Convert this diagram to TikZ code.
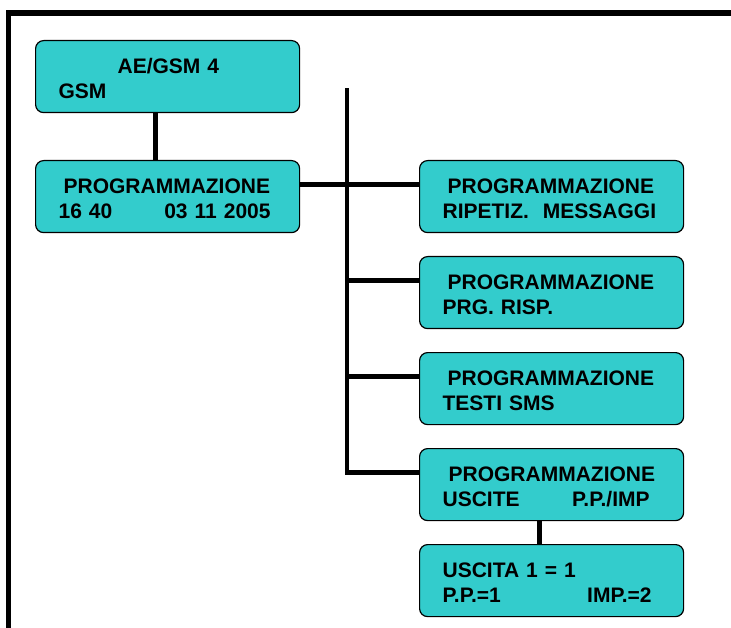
\documentclass[tikz,border=0pt]{standalone}
\usepackage{fontspec}
\setmainfont{Liberation Sans}
\definecolor{menucyan}{RGB}{51, 204, 204}

\tikzset{
    menubox/.style={draw=black, line width=1.2pt, fill=menucyan, rounded corners=8pt,
        anchor=north west, inner xsep=23pt, inner ysep=0pt,
        text width=218pt, text height=33pt, text depth=39pt, align=left,
        font=\fontsize{21pt}{25pt}\selectfont\bfseries},
    link/.style={line width=4.5pt}
}

\begin{document}
\begin{tikzpicture}[x=1pt, y=-1pt]
            \useasboundingbox (0,0) rectangle (731,628);
            \clip (0,0) rectangle (731,628);

            % Frame
            \draw[line width=5.5pt] (8.5,700) |- (760,13);

            % Left column
            \node[menubox] (gsm) at (35,40) {\hspace*{59pt}AE/GSM 4\\GSM};
            \node[menubox] (prog) at (35,160) {\hspace*{5pt}PROGRAMMAZIONE\\16 40\hfill 03 11 2005\hspace*{6pt}\mbox{}};

            % Right column
            \node[menubox] (rip) at (419,160) {\hspace*{5pt}PROGRAMMAZIONE\\RIPETIZ.\ \ MESSAGGI};
            \node[menubox] (risp) at (419,256) {\hspace*{5pt}PROGRAMMAZIONE\\PRG. RISP.};
            \node[menubox] (sms) at (419,352) {\hspace*{5pt}PROGRAMMAZIONE\\TESTI SMS};
            \node[menubox] (usc) at (419,448) {\hspace*{6pt}PROGRAMMAZIONE\\USCITE\hfill P.P./IMP\hspace*{11pt}\mbox{}};
            \node[menubox] (usc1) at (419,544) {USCITA 1 = 1\\P.P.=1\hfill IMP.=2\hspace*{9pt}\mbox{}};

            % Connectors
            \coordinate (bus) at (347,88);
            \draw[link] ([xshift=-12pt]gsm.south) -- ([xshift=-12pt]prog.north);
            \draw[link] ([yshift=12pt]prog.east) -- ([yshift=12pt]rip.west);
            \foreach \n in {risp, sms, usc}
                \draw[link] ([yshift=12pt]\n.west) -| (bus);
            \draw[link] ([xshift=-12pt]usc.south) -- ([xshift=-12pt]usc1.north);
        \end{tikzpicture}
\end{document}
